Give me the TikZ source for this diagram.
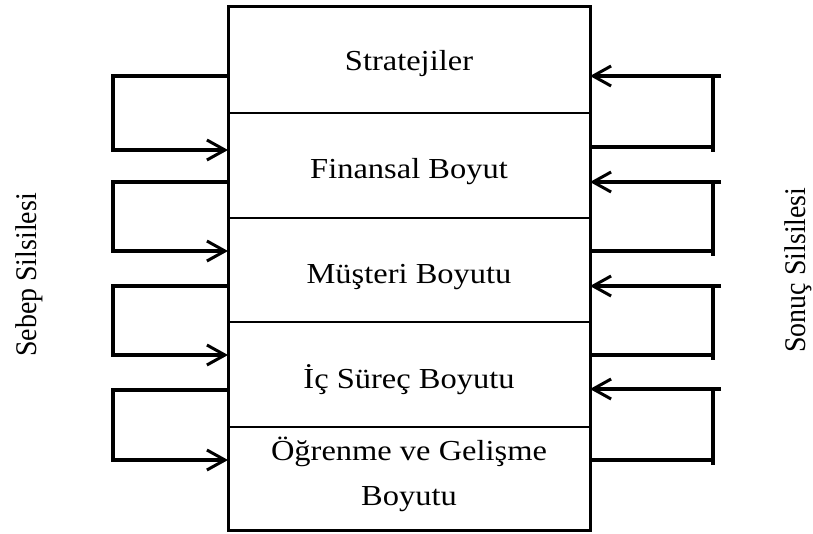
\documentclass[tikz,border=0pt]{standalone}
\usepackage{fontspec}
\setmainfont{Liberation Serif}
\newfontfamily\widefont{Liberation Serif}[FakeStretch=1.12]
\newfontfamily\narrowfont{Liberation Serif}[FakeStretch=0.93]
\usetikzlibrary{arrows.meta}
\begin{document}
\begin{tikzpicture}[x=1pt,y=-1pt,
  rowbox/.style={draw,line width=1.7pt,minimum width=362pt,inner sep=0pt,outer sep=0pt},
  outerbox/.style={draw,line width=3pt},
  conn/.style={line width=3.3pt,line join=miter},
  barb/.style={-{Straight Barb[length=18pt,width=20pt,line width=3pt]}},
  rowtext/.style={font=\widefont\fontsize{29}{45}\selectfont,anchor=base,inner sep=0pt},
  sidetext/.style={font=\narrowfont\fontsize{30}{36}\selectfont,rotate=90,anchor=base,inner sep=0pt}]
\useasboundingbox (0,0) rectangle (813,533);
% rows
\node[rowbox,minimum height=107pt] (r1) at (409,59.5) {};
\node[rowbox,minimum height=105pt] (r2) at (409,165.5) {};
\node[rowbox,minimum height=104pt] (r3) at (409,270) {};
\node[rowbox,minimum height=105pt] (r4) at (409,374.5) {};
\node[rowbox,minimum height=103pt] (r5) at (409,478.5) {};
\draw[outerbox] (r1.north west) rectangle (r5.south east);
% texts
\node[rowtext] (t1) at (409,70) {Stratejiler};
\node[rowtext] (t2) at (409,178) {Finansal Boyut};
\node[rowtext] (t3) at (409,283) {Müşteri Boyutu};
\node[rowtext] (t4) at (409,388) {İç Süreç Boyutu};
\node[rowtext] (t5a) at (409,460) {Öğrenme ve Gelişme};
\node[rowtext] (t5b) at (409,505) {Boyutu};
\node[sidetext] (sebep) at (36,275) {Sebep Silsilesi};
\node[sidetext] (sonuc) at (805,270) {Sonuç Silsilesi};
% helper x positions
\coordinate (Lx) at (113,0);
\coordinate (Rx) at (713,0);
\coordinate (Rt) at (721,0);
% left brackets
\coordinate (a1) at ([yshift=37pt]r1.south west);
\coordinate (b1) at ([yshift=-37pt]r1.south west);
\coordinate (a2) at ([yshift=36pt]r2.south west);
\coordinate (b2) at ([yshift=-33pt]r2.south west);
\coordinate (a3) at ([yshift=36pt]r3.south west);
\coordinate (b3) at ([yshift=-33pt]r3.south west);
\coordinate (a4) at ([yshift=37pt]r4.south west);
\coordinate (b4) at ([yshift=-33pt]r4.south west);
\foreach \i in {1,2,3,4}{
  \draw[conn,barb] (a\i) -- (a\i -| Lx) -- (b\i -| Lx) -- (b\i);
}
% right brackets
\coordinate (c1) at ([yshift=37pt]r1.south east);
\coordinate (d1) at ([yshift=-34pt]r1.south east);
\coordinate (c2) at ([yshift=36pt]r2.south east);
\coordinate (d2) at ([yshift=-33pt]r2.south east);
\coordinate (c3) at ([yshift=36pt]r3.south east);
\coordinate (d3) at ([yshift=-33pt]r3.south east);
\coordinate (c4) at ([yshift=38pt]r4.south east);
\coordinate (d4) at ([yshift=-33pt]r4.south east);
\foreach \i in {1,2,3,4}{
  \draw[conn,barb] (c\i -| Rt) -- (c\i);
  \draw[conn] (c\i -| Rx) -- ([yshift=-5pt]d\i -| Rx);
  \draw[conn] (d\i -| Rx) -- (d\i);
}
\end{tikzpicture}
\end{document}
